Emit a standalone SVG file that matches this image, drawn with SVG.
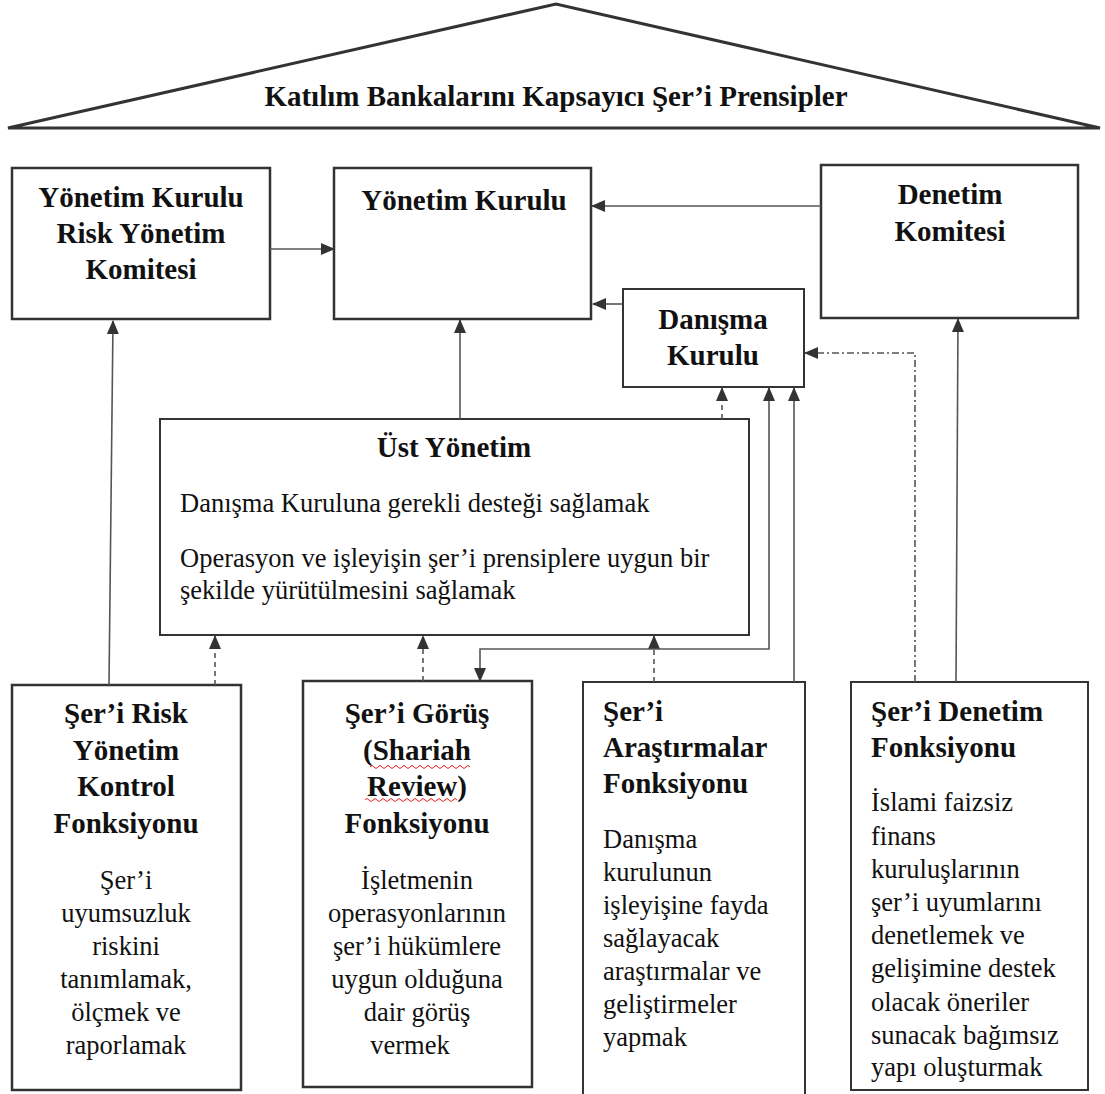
<svg xmlns="http://www.w3.org/2000/svg" width="1105" height="1094" viewBox="0 0 1105 1094">
  <style>
    .box { fill: #fff; stroke: #333; stroke-width: 2.5; }
    .thin { fill: #fff; stroke: #333; stroke-width: 2; }
    .hd { font-family: "Liberation Serif", "Times New Roman", serif; font-weight: bold; font-size: 29px; fill: #111; }
    .tx { font-family: "Liberation Serif", "Times New Roman", serif; font-size: 26.5px; fill: #111; }
    .mid { text-anchor: middle; }
    .ln { fill: none; stroke: #555; stroke-width: 1.6; }
    .dash { stroke-dasharray: 5 4; }
    .dashdot { stroke-dasharray: 7 3 2 3; }
    .squiggle { fill: none; stroke: #e02020; stroke-width: 1; }
  </style>
  <defs>
    <marker id="arr" markerUnits="userSpaceOnUse" markerWidth="14" markerHeight="14" viewBox="0 0 14 14" refX="13" refY="7" orient="auto">
      <path d="M0,1 L14,7 L0,13 Z" fill="#333"/>
    </marker>
    <marker id="arrStart" markerUnits="userSpaceOnUse" markerWidth="14" markerHeight="14" viewBox="0 0 14 14" refX="13" refY="7" orient="auto-start-reverse">
      <path d="M0,1 L14,7 L0,13 Z" fill="#333"/>
    </marker>
  </defs>

  <rect width="1105" height="1094" fill="#fff"/>

  <!-- roof -->
  <g id="roof">
    <path d="M8,128 L556,4 L1100,128 Z" fill="#fff" stroke="#333" stroke-width="3" stroke-linejoin="miter"/>
    <text class="hd mid" x="556" y="106">Katılım Bankalarını Kapsayıcı Şer’i Prensipler</text>
  </g>

  <g id="yk-risk">
    <rect class="box" x="12" y="168" width="258" height="151"/>
    <text class="hd mid" x="141" y="207">Yönetim Kurulu</text>
    <text class="hd mid" x="141" y="243">Risk Yönetim</text>
    <text class="hd mid" x="141" y="279">Komitesi</text>
  </g>

  <g id="yonetim-kurulu">
    <rect class="box" x="334" y="168" width="257" height="151"/>
    <text class="hd mid" x="464" y="210">Yönetim Kurulu</text>
  </g>

  <g id="denetim-komitesi">
    <rect class="box" x="821" y="165" width="257" height="153"/>
    <text class="hd mid" x="950" y="204">Denetim</text>
    <text class="hd mid" x="950" y="241">Komitesi</text>
  </g>

  <g id="danisma-kurulu">
    <rect class="thin" x="623" y="289" width="181" height="98"/>
    <text class="hd mid" x="713" y="329">Danışma</text>
    <text class="hd mid" x="713" y="365">Kurulu</text>
  </g>

  <g id="ust-yonetim">
    <rect class="thin" x="160" y="419" width="589" height="216"/>
    <text class="hd mid" x="454" y="457">Üst Yönetim</text>
    <text class="tx" x="180" y="512">Danışma Kuruluna gerekli desteği sağlamak</text>
    <text class="tx" x="180" y="567">Operasyon ve işleyişin şer’i prensiplere uygun bir</text>
    <text class="tx" x="180" y="599">şekilde yürütülmesini sağlamak</text>
  </g>

  <g id="risk-kontrol">
    <rect class="box" x="12" y="685" width="229" height="405"/>
    <text class="hd mid" x="126" y="723">Şer’i Risk</text>
    <text class="hd mid" x="126" y="760">Yönetim</text>
    <text class="hd mid" x="126" y="796">Kontrol</text>
    <text class="hd mid" x="126" y="833">Fonksiyonu</text>
    <text class="tx mid" x="126" y="889">Şer’i</text>
    <text class="tx mid" x="126" y="922">uyumsuzluk</text>
    <text class="tx mid" x="126" y="955">riskini</text>
    <text class="tx mid" x="126" y="988">tanımlamak,</text>
    <text class="tx mid" x="126" y="1021">ölçmek ve</text>
    <text class="tx mid" x="126" y="1054">raporlamak</text>
  </g>

  <g id="shariah-review">
    <rect class="box" x="303" y="681" width="229" height="406"/>
    <text class="hd mid" x="417" y="723">Şer’i Görüş</text>
    <text class="hd mid" x="417" y="760">(Shariah</text>
    <text class="hd mid" x="417" y="796">Review)</text>
    <text class="hd mid" x="417" y="833">Fonksiyonu</text>
    <path class="squiggle" d="M370,767 q2,-3 4,0 t4,0 t4,0 t4,0 t4,0 t4,0 t4,0 t4,0 t4,0 t4,0 t4,0 t4,0 t4,0 t4,0 t4,0 t4,0 t4,0 t4,0 t4,0 t4,0 t4,0 t4,0 t4,0 t4,0 t4,0"/>
    <path class="squiggle" d="M365,800 q2,-3 4,0 t4,0 t4,0 t4,0 t4,0 t4,0 t4,0 t4,0 t4,0 t4,0 t4,0 t4,0 t4,0 t4,0 t4,0 t4,0 t4,0 t4,0 t4,0 t4,0 t4,0 t4,0 t4,0"/>
    <text class="tx mid" x="417" y="889">İşletmenin</text>
    <text class="tx mid" x="417" y="922">operasyonlarının</text>
    <text class="tx mid" x="417" y="955">şer’i hükümlere</text>
    <text class="tx mid" x="417" y="988">uygun olduğuna</text>
    <text class="tx mid" x="417" y="1021">dair görüş</text>
    <text class="tx mid" x="410" y="1054">vermek</text>
  </g>

  <g id="arastirmalar">
    <rect class="thin" x="583" y="682" width="222" height="420"/>
    <text class="hd" x="603" y="721">Şer’i</text>
    <text class="hd" x="603" y="757">Araştırmalar</text>
    <text class="hd" x="603" y="793">Fonksiyonu</text>
    <text class="tx" x="603" y="848">Danışma</text>
    <text class="tx" x="603" y="881">kurulunun</text>
    <text class="tx" x="603" y="914">işleyişine fayda</text>
    <text class="tx" x="603" y="947">sağlayacak</text>
    <text class="tx" x="603" y="980">araştırmalar ve</text>
    <text class="tx" x="603" y="1013">geliştirmeler</text>
    <text class="tx" x="603" y="1046">yapmak</text>
  </g>

  <g id="denetim-fonksiyonu">
    <rect class="thin" x="851" y="682" width="237" height="408"/>
    <text class="hd" x="871" y="721">Şer’i Denetim</text>
    <text class="hd" x="871" y="757">Fonksiyonu</text>
    <text class="tx" x="871" y="811">İslami faizsiz</text>
    <text class="tx" x="871" y="845">finans</text>
    <text class="tx" x="871" y="878">kuruluşlarının</text>
    <text class="tx" x="871" y="911">şer’i uyumlarını</text>
    <text class="tx" x="871" y="944">denetlemek ve</text>
    <text class="tx" x="871" y="977">gelişimine destek</text>
    <text class="tx" x="871" y="1011">olacak öneriler</text>
    <text class="tx" x="871" y="1044">sunacak bağımsız</text>
    <text class="tx" x="871" y="1076">yapı oluşturmak</text>
  </g>

  <g id="connectors">
    <line class="ln" x1="270" y1="249" x2="334" y2="249" marker-end="url(#arr)"/>
    <line class="ln" x1="821" y1="206" x2="592" y2="206" marker-end="url(#arr)"/>
    <line class="ln" x1="623" y1="304" x2="593" y2="304" marker-end="url(#arr)"/>
    <line class="ln" x1="460" y1="419" x2="460" y2="320" marker-end="url(#arr)"/>
    <line class="ln dash" x1="722" y1="419" x2="722" y2="388" marker-end="url(#arr)"/>
    <line class="ln" x1="109" y1="685" x2="113" y2="321" marker-end="url(#arr)"/>
    <line class="ln dash" x1="215" y1="685" x2="215" y2="636" marker-end="url(#arr)"/>
    <line class="ln dash" x1="423" y1="681" x2="423" y2="636" marker-end="url(#arr)"/>
    <line class="ln dash" x1="654" y1="682" x2="654" y2="636" marker-end="url(#arr)"/>
    <line class="ln" x1="794" y1="682" x2="794" y2="388" marker-end="url(#arr)"/>
    <path class="ln" d="M769,388 L769,649 L480,649 L480,681" marker-start="url(#arrStart)" marker-end="url(#arr)"/>
    <path class="ln dashdot" d="M915,682 L915,353 L805,353" marker-end="url(#arr)"/>
    <line class="ln" x1="956" y1="682" x2="958" y2="319" marker-end="url(#arr)"/>
  </g>
</svg>
